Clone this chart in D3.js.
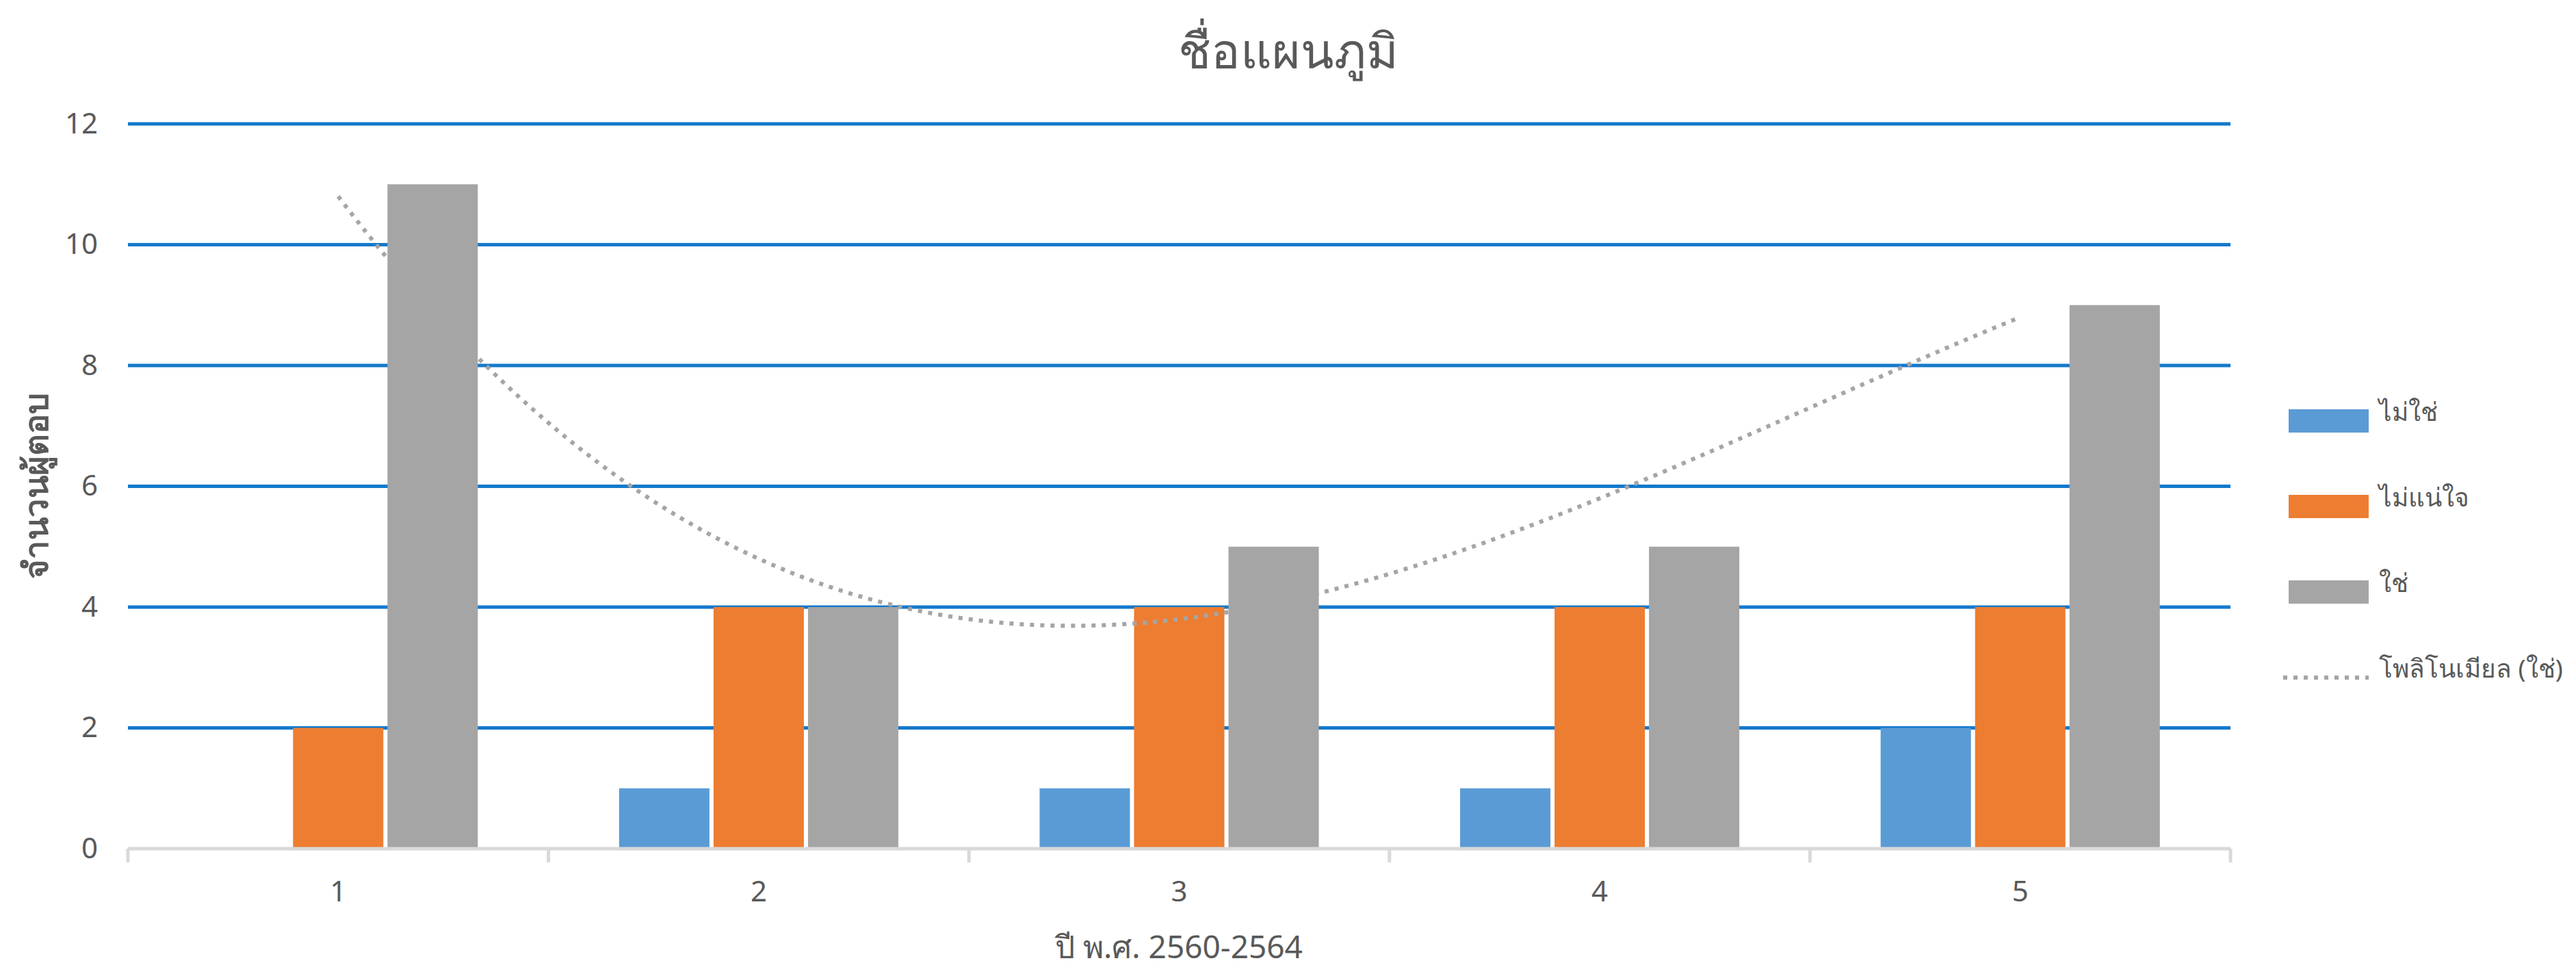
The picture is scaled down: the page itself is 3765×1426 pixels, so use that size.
<!DOCTYPE html>
<html>
<head>
<meta charset="utf-8">
<script src="https://cdn.jsdelivr.net/npm/d3@7/dist/d3.min.js"></script>
<style>
  html, body { margin: 0; padding: 0; background: #fff; }
  svg { display: block; font-family: "Noto Sans", "DejaVu Sans", sans-serif; }
</style>
</head>
<body>
<div id="chart"></div>
<script>
const categories = ['1', '2', '3', '4', '5'];
const seriesNames = ['ไม่ใช่', 'ไม่แน่ใจ', 'ใช่'];
const noValues = [0, 1, 1, 1, 2];
const unsureValues = [2, 4, 4, 4, 4];
const yesValues = [11, 4, 5, 5, 9];
const yTicks = [0, 2, 4, 6, 8, 10, 12];
const trendLabel = 'โพลิโนเมียล (ใช่)';
const trendOrder = 3;

const W = 3765, H = 1426;
const colors = { 'ไม่ใช่': '#5B9BD5', 'ไม่แน่ใจ': '#ED7D31', 'ใช่': '#A5A5A5' };
const textColor = '#595959';

const seriesValues = [noValues, unsureValues, yesValues];
const rows = categories.map((c, i) => ({
  cat: c,
  vals: seriesNames.map((s, k) => ({ key: s, value: seriesValues[k][i] }))
}));

const svg = d3.select('#chart').append('svg')
  .attr('width', W).attr('height', H).attr('viewBox', `0 0 ${W} ${H}`);

const x0 = d3.scaleBand().domain(categories).range([187, 3260]).padding(0);
const groupW = x0.bandwidth() * 0.664;
const x1 = d3.scaleBand().domain(seriesNames).range([0, groupW]).paddingInner(0.0435);
const y = d3.scaleLinear().domain([0, 12]).range([1240, 181]);

// title
svg.append('text')
  .attr('x', W / 2).attr('y', 100)
  .attr('text-anchor', 'middle')
  .attr('fill', textColor)
  .style('font-size', '71px')
  .text('ชื่อแผนภูมิ');

// gridlines
svg.append('g').selectAll('line').data(yTicks.filter((t) => t > 0)).enter().append('line')
  .attr('x1', 187).attr('x2', 3260)
  .attr('y1', (d) => y(d)).attr('y2', (d) => y(d))
  .attr('stroke', '#1479CC').attr('stroke-width', 5);

// y axis labels
svg.append('g').attr('transform', 'translate(187,0)')
  .call(d3.axisLeft(y).tickValues(yTicks).tickSize(0).tickPadding(44))
  .call((g) => g.select('.domain').remove())
  .call((g) => g.selectAll('text').attr('fill', textColor).style('font-size', '42px')
    .style('font-family', '"Noto Sans", "DejaVu Sans", sans-serif'));

// bars
const groups = svg.append('g').selectAll('g').data(rows).enter().append('g')
  .attr('transform', (d) => `translate(${x0(d.cat) + (x0.bandwidth() - groupW) / 2},0)`);
groups.selectAll('rect').data((d) => d.vals).enter().append('rect')
  .attr('x', (d) => x1(d.key))
  .attr('width', x1.bandwidth())
  .attr('y', (d) => y(d.value))
  .attr('height', (d) => y(0) - y(d.value))
  .attr('fill', (d) => colors[d.key]);

// x axis line + boundary ticks
const xAxisG = svg.append('g');
xAxisG.append('line')
  .attr('x1', 187).attr('x2', 3260).attr('y1', y(0)).attr('y2', y(0))
  .attr('stroke', '#D9D9D9').attr('stroke-width', 5);
xAxisG.selectAll('line.tick').data(d3.range(categories.length + 1)).enter().append('line')
  .attr('class', 'tick')
  .attr('x1', (i) => 187 + i * x0.step()).attr('x2', (i) => 187 + i * x0.step())
  .attr('y1', y(0)).attr('y2', y(0) + 20)
  .attr('stroke', '#D9D9D9').attr('stroke-width', 5);
svg.append('g').attr('transform', `translate(0,${y(0)})`)
  .call(d3.axisBottom(x0).tickSize(0).tickPadding(47))
  .call((g) => g.select('.domain').remove())
  .call((g) => g.selectAll('text').attr('fill', textColor).style('font-size', '42px')
    .style('font-family', '"Noto Sans", "DejaVu Sans", sans-serif'));

// polynomial trendline (least squares fit of the ใช่ series)
function polyFit(xs, ys, order) {
  const n = order + 1;
  const A = d3.range(n).map((r) => d3.range(n + 1).map(() => 0));
  xs.forEach((xv, i) => {
    for (let r = 0; r < n; r++) {
      for (let c = 0; c < n; c++) A[r][c] += Math.pow(xv, r + c);
      A[r][n] += ys[i] * Math.pow(xv, r);
    }
  });
  for (let p = 0; p < n; p++) {
    let m = p;
    for (let r = p + 1; r < n; r++) if (Math.abs(A[r][p]) > Math.abs(A[m][p])) m = r;
    [A[p], A[m]] = [A[m], A[p]];
    for (let r = 0; r < n; r++) {
      if (r === p) continue;
      const f = A[r][p] / A[p][p];
      for (let c = p; c <= n; c++) A[r][c] -= f * A[p][c];
    }
  }
  return d3.range(n).map((r) => A[r][n] / A[r][r]);
}
const xsNum = categories.map((c, i) => i + 1);
const coef = polyFit(xsNum, yesValues, trendOrder);
const trendAt = (t) => coef.reduce((s, c, k) => s + c * Math.pow(t, k), 0);
const xt = d3.scaleLinear().domain([1, categories.length])
  .range([x0(categories[0]) + x0.bandwidth() / 2, x0(categories[categories.length - 1]) + x0.bandwidth() / 2]);
const trendPts = d3.range(1, categories.length + 0.0001, 0.02).map((t) => [t, trendAt(t)]);
svg.append('path')
  .datum(trendPts)
  .attr('d', d3.line().x((d) => xt(d[0])).y((d) => y(d[1])).curve(d3.curveLinear))
  .attr('fill', 'none')
  .attr('stroke', '#A5A5A5').attr('stroke-width', 6)
  .attr('stroke-dasharray', '6 9');

// y axis title
svg.append('text')
  .attr('transform', 'translate(70,710) rotate(-90)')
  .attr('text-anchor', 'middle')
  .attr('fill', textColor)
  .style('font-size', '49px').style('font-weight', 'bold')
  .text('จำนวนผู้ตอบ');

// x axis title
svg.append('text')
  .attr('x', 1723).attr('y', 1400)
  .attr('text-anchor', 'middle')
  .attr('fill', textColor)
  .style('font-size', '46px')
  .text('ปี พ.ศ. 2560-2564');

// legend
const legendItems = seriesNames.map((s) => ({ label: s, type: 'bar' }))
  .concat([{ label: trendLabel, type: 'trend' }]);
const leg = svg.append('g').selectAll('g').data(legendItems).enter().append('g')
  .attr('transform', (d, i) => `translate(3345,${615 + i * 125})`);
leg.filter((d) => d.type === 'bar').append('rect')
  .attr('x', 0).attr('y', -17).attr('width', 117).attr('height', 34)
  .attr('fill', (d) => colors[d.label]);
leg.filter((d) => d.type === 'trend').append('line')
  .attr('x1', -8).attr('x2', 117).attr('y1', 0).attr('y2', 0)
  .attr('stroke', '#A5A5A5').attr('stroke-width', 6).attr('stroke-dasharray', '6 9');
leg.append('text')
  .attr('x', 132).attr('y', 0)
  .attr('fill', textColor)
  .style('font-size', '37px')
  .text((d) => d.label);
</script>
</body>
</html>
